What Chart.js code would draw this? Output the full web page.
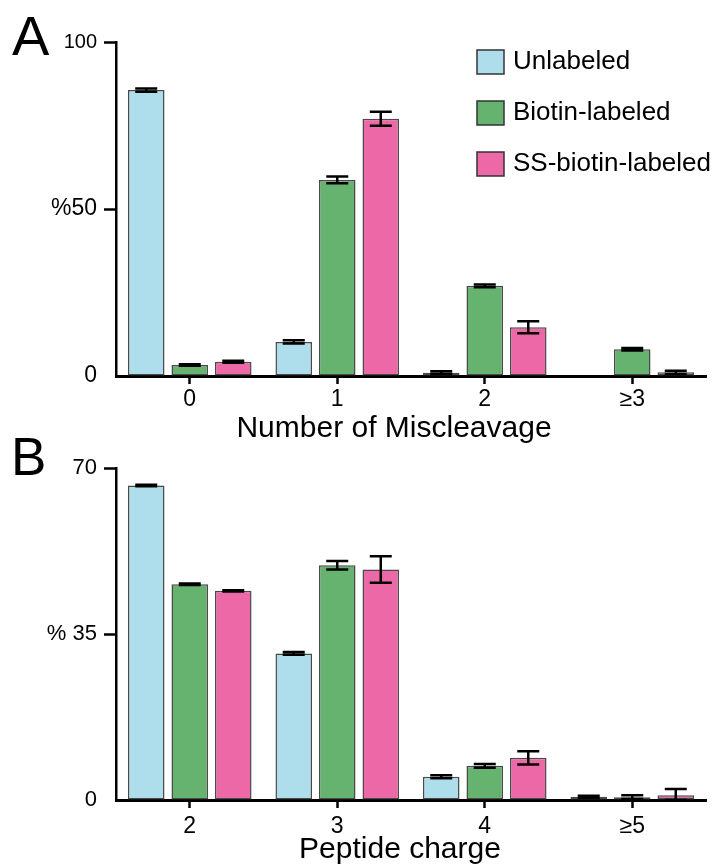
<!DOCTYPE html>
<html>
<head>
<meta charset="utf-8">
<script src="https://cdn.jsdelivr.net/npm/chart.js@4.4.1/dist/chart.umd.min.js"></script>
<style>
  body { margin: 0; background: #fff; width: 722px; height: 867px; position: relative; overflow: hidden; }
  canvas { position: absolute; left: 0; }
  #chartA { top: 0; }
  #chartB { top: 420px; }
  .panel { position: absolute; font-family: "Liberation Sans", Arial, sans-serif; line-height: 1; color: #000; }
</style>
</head>
<body>
<canvas id="chartA" width="722" height="450"></canvas>
<canvas id="chartB" width="722" height="447"></canvas>
<div class="panel" style="left:12px; top:8px; font-size:56px;">A</div>
<div class="panel" style="left:11px; top:430px; font-size:53px;">B</div>
<script>
const seriesNames = ["Unlabeled", "Biotin-labeled", "SS-biotin-labeled"];
const seriesColors = ["#aedeeb", "#66b26f", "#ec68a7"];

// panel A: number of miscleavage
const categoriesA = ["0", "1", "2", "≥3"];
const unlabeledA = [85.6, 10.2, 1.0, 0];
const biotinA = [3.3, 58.7, 27.0, 8.0];
const ssBiotinA = [4.3, 77.0, 14.6, 1.1];
const unlabeledErrA = [0.5, 0.5, 0.4, 0];
const biotinErrA = [0.2, 1.0, 0.4, 0.4];
const ssBiotinErrA = [0.3, 2.1, 1.8, 0.5];
const yTicksA = [0, 50, 100];

// panel B: peptide charge
const categoriesB = ["2", "3", "4", "≥5"];
const unlabeledB = [66.3, 30.9, 4.9, 0.7];
const biotinB = [45.5, 49.5, 7.2, 0.6];
const ssBiotinB = [44.1, 48.6, 8.9, 1.0];
const unlabeledErrB = [0.15, 0.3, 0.3, 0.2];
const biotinErrB = [0.15, 0.9, 0.4, 0.4];
const ssBiotinErrB = [0.15, 2.8, 1.4, 1.3];
const yTicksB = [0, 35, 70];

const FONT = '"Liberation Sans", Arial, sans-serif';

const errorBars = {
  id: "errorBars",
  afterDatasetsDraw(chart) {
    const ctx = chart.ctx;
    const y = chart.scales.y;
    chart.data.datasets.forEach((ds, i) => {
      chart.getDatasetMeta(i).data.forEach((bar, j) => {
        const e = ds.errors[j];
        if (!e) return;
        const v = ds.data[j];
        const top = y.getPixelForValue(v + e);
        const bot = y.getPixelForValue(Math.max(0, v - e));
        ctx.save();
        ctx.strokeStyle = "#000";
        ctx.lineWidth = 2.5;
        ctx.beginPath();
        ctx.moveTo(bar.x, top); ctx.lineTo(bar.x, bot);
        ctx.moveTo(bar.x - 11, top); ctx.lineTo(bar.x + 11, top);
        ctx.moveTo(bar.x - 11, bot); ctx.lineTo(bar.x + 11, bot);
        ctx.stroke();
        ctx.restore();
      });
    });
  }
};

const boxLegend = {
  id: "boxLegend",
  afterDraw(chart) {
    const ctx = chart.ctx;
    ctx.save();
    ctx.font = "26px " + FONT;
    ctx.textBaseline = "middle";
    chart.data.datasets.forEach((ds, i) => {
      const top = 50 + 51 * i;
      ctx.fillStyle = ds.backgroundColor;
      ctx.fillRect(477, top, 27, 24);
      ctx.strokeStyle = "#333";
      ctx.lineWidth = 1.5;
      ctx.strokeRect(477, top, 27, 24);
      ctx.fillStyle = "#000";
      ctx.fillText(ds.label, 513, top + 12);
    });
    ctx.restore();
  }
};

// x-axis title sits a little left of the plot centre in the original
const axisTitle = {
  id: "axisTitle",
  afterDraw(chart, args, o) {
    const ctx = chart.ctx;
    ctx.save();
    ctx.font = "30px " + FONT;
    ctx.fillStyle = "#000";
    ctx.textAlign = "center";
    ctx.textBaseline = "alphabetic";
    ctx.fillText(o.text, o.x, o.y);
    ctx.restore();
  }
};

function makeDatasets(values, errors) {
  return values.map((data, i) => ({
    label: seriesNames[i],
    data: data,
    errors: errors[i],
    backgroundColor: seriesColors[i],
    borderColor: "#4a4a4a",
    borderWidth: 1.5,
    borderSkipped: false,
    categoryPercentage: 0.885,
    barPercentage: 0.84
  }));
}

function makeChart(id, labels, datasets, yTicks, opts) {
  return new Chart(document.getElementById(id), {
    type: "bar",
    data: { labels: labels, datasets: datasets },
    plugins: opts.plugins,
    options: {
      responsive: false,
      animation: false,
      devicePixelRatio: 1,
      layout: { padding: { top: opts.padTop, right: 16, left: 0, bottom: 0 } },
      plugins: {
        legend: { display: false },
        tooltip: { enabled: false },
        axisTitle: { text: opts.xTitle, x: opts.titleX, y: opts.titleY }
      },
      scales: {
        x: {
          afterFit: (s) => { s.height = opts.xHeight; },
          grid: { offset: false, drawOnChartArea: false, drawTicks: true, tickLength: 8, tickWidth: 2.5, tickColor: "#000" },
          border: { display: true, color: "#000", width: 3 },
          ticks: { color: "#000", padding: opts.xPad, font: { family: FONT, size: 23 } }
        },
        y: {
          min: yTicks[0],
          max: yTicks[yTicks.length - 1],
          afterFit: (s) => { s.width = 116; },
          afterBuildTicks: (s) => { s.ticks = yTicks.map(v => ({ value: v })); },
          grid: {
            drawOnChartArea: false, drawTicks: true, tickLength: 12, tickWidth: 2.5,
            tickColor: (c) => (c.tick && c.tick.value === 0 ? "rgba(0,0,0,0)" : "#000")
          },
          border: { display: true, color: "#000", width: 2.5 },
          ticks: {
            color: "#000",
            padding: 7,
            font: (c) => ({ family: FONT, size: opts.yFontSizes[c.index] }),
            callback: (v) => (v === yTicks[1] ? opts.pct + v : String(v))
          }
        }
      }
    }
  });
}

makeChart("chartA", categoriesA,
  makeDatasets([unlabeledA, biotinA, ssBiotinA], [unlabeledErrA, biotinErrA, ssBiotinErrA]),
  yTicksA,
  { padTop: 42, xHeight: 74, xPad: 2, xTitle: "Number of Miscleavage", titleX: 394, titleY: 437,
    yFontSizes: [23, 23, 20], pct: "%", plugins: [errorBars, boxLegend, axisTitle] });

makeChart("chartB", categoriesB,
  makeDatasets([unlabeledB, biotinB, ssBiotinB], [unlabeledErrB, biotinErrB, ssBiotinErrB]),
  yTicksB,
  { padTop: 48, xHeight: 67, xPad: 5, xTitle: "Peptide charge", titleX: 400, titleY: 438,
    yFontSizes: [22, 22, 22], pct: "% ", plugins: [errorBars, axisTitle] });
</script>
</body>
</html>
